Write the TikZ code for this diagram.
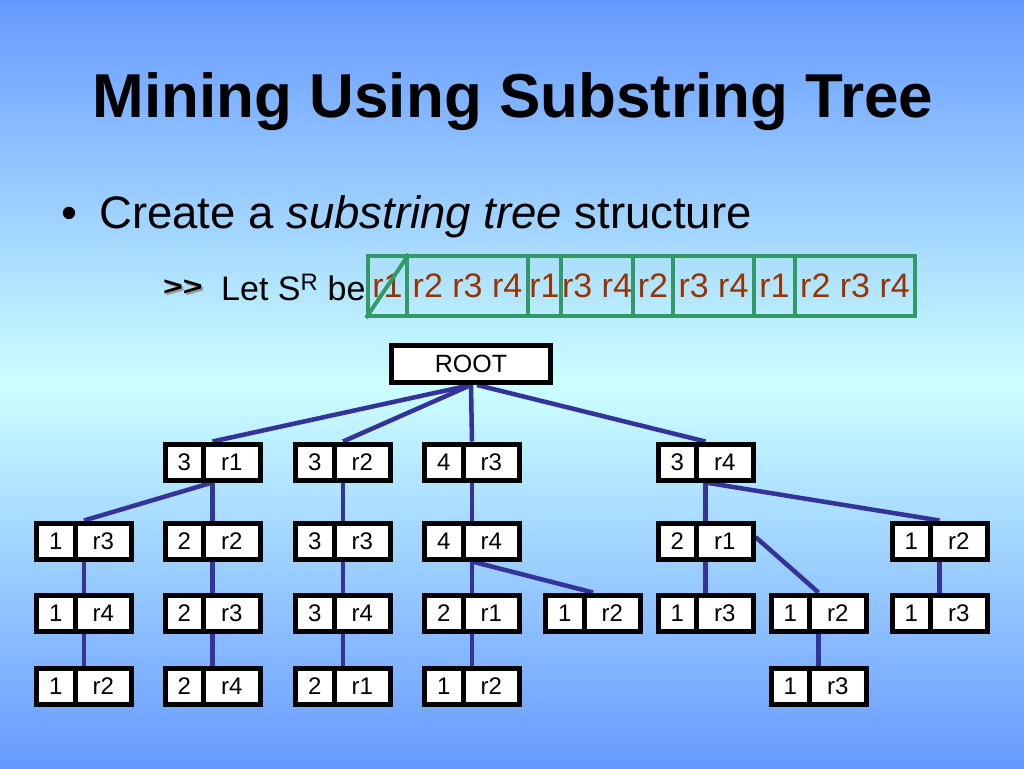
\documentclass[tikz,border=0pt]{standalone}
\usepackage{fontspec}
\setmainfont{Liberation Sans}
\pgfdeclarelayer{bg}
\pgfdeclarelayer{edges}
\pgfsetlayers{bg,edges,main}
\definecolor{bgtop}{HTML}{6699FF}
\definecolor{bgmid}{HTML}{CCFFFF}
\definecolor{seqred}{HTML}{993300}
\definecolor{seqgreen}{HTML}{339966}
\definecolor{edgeblue}{HTML}{333399}
\newcommand\pairtext[2]{\makebox[38.5pt]{#1}\makebox[56.5pt]{#2}}
\newcommand\dblgt{\scalebox{1.3}[1]{>}\kern0pt\scalebox{1.3}[1]{>}}
\tikzset{
  pair/.style={draw=black, line width=5pt, fill=white, inner sep=0pt,
    minimum height=36pt, font=\fontsize{24}{28}\selectfont,
    path picture={\draw[line width=5pt]
      ([xshift=38.5pt]path picture bounding box.north west) --
      ([xshift=38.5pt]path picture bounding box.south west);}},
  rootbox/.style={draw=black, line width=5pt, fill=white, inner sep=0pt,
    minimum width=159pt, minimum height=37pt, font=\fontsize{25}{28}\selectfont},
  seqcell/.style={draw=seqgreen, line width=4pt, inner sep=0pt,
    minimum height=60pt, text=seqred, font=\fontsize{34}{40}\selectfont},
  link/.style={draw=edgeblue, line width=4.5pt},
}
\begin{document}
\begin{tikzpicture}[x=1pt,y=-1pt]
\useasboundingbox (0,0) rectangle (1024,768);
\begin{pgfonlayer}{bg}
  \fill[top color=bgtop, bottom color=bgtop, middle color=bgmid] (0,0) rectangle (1024,768);
\end{pgfonlayer}

% title and text
\node[anchor=base, inner sep=0pt, font=\fontsize{62}{70}\selectfont\bfseries] (title) at (513,117) {Mining Using Substring Tree};
\node[anchor=base west, inner sep=0pt, font=\fontsize{45.5}{50}\selectfont] (bullet) at (61,228) {•};
\node[anchor=base west, inner sep=0pt, font=\fontsize{45.5}{50}\selectfont] (line1) at (99,228) {Create a \textit{substring tree} structure};
\node[anchor=base west, inner sep=0pt, text=black!40, font=\fontsize{26}{28}\selectfont\bfseries] (arrsh) at (165,297) {\dblgt};
\node[anchor=base west, inner sep=0pt, font=\fontsize{26}{28}\selectfont\bfseries] (arr) at (163,295) {\dblgt};
\node[anchor=base west, inner sep=0pt, font=\fontsize{34}{40}\selectfont] (let) at (221,300) {Let S\textsuperscript{R} be};

% sequence bar
\node[seqcell, minimum width=39pt] (s1) at (387.5,286) {r1};
\node[seqcell, minimum width=121pt] (s2) at (467.5,286) {r2 r3 r4};
\node[seqcell, minimum width=33pt] (s3) at (544.5,286) {r1};
\node[seqcell, minimum width=72pt] (s4) at (597,286) {r3 r4};
\node[seqcell, minimum width=40pt] (s5) at (653,286) {r2};
\node[seqcell, minimum width=81pt] (s6) at (713.5,286) {r3 r4};
\node[seqcell, minimum width=41pt] (s7) at (774.5,286) {r1};
\node[seqcell, minimum width=120pt] (s8) at (855,286) {r2 r3 r4};
\draw[seqgreen, line width=4pt] (s1.south west) -- (s1.north east);

% tree
\node[rootbox] (root) at (471,364) {ROOT};

\node[pair] (n21) at (212.5,462) {\pairtext{3}{r1}};
\node[pair] (n31) at (343,462) {\pairtext{3}{r2}};
\node[pair] (n41) at (472,462) {\pairtext{4}{r3}};
\node[pair] (n61) at (705.5,462) {\pairtext{3}{r4}};

\node[pair] (n12) at (84,541) {\pairtext{1}{r3}};
\node[pair] (n22) at (212.5,541) {\pairtext{2}{r2}};
\node[pair] (n32) at (343,541) {\pairtext{3}{r3}};
\node[pair] (n42) at (472,541) {\pairtext{4}{r4}};
\node[pair] (n62) at (705.5,541) {\pairtext{2}{r1}};
\node[pair] (n82) at (939.5,541) {\pairtext{1}{r2}};

\node[pair] (n13) at (84,613) {\pairtext{1}{r4}};
\node[pair] (n23) at (212.5,613) {\pairtext{2}{r3}};
\node[pair] (n33) at (343,613) {\pairtext{3}{r4}};
\node[pair] (n43) at (472,613) {\pairtext{2}{r1}};
\node[pair] (n53) at (593,613) {\pairtext{1}{r2}};
\node[pair] (n63) at (705.5,613) {\pairtext{1}{r3}};
\node[pair] (n73) at (818.5,613) {\pairtext{1}{r2}};
\node[pair] (n83) at (939.5,613) {\pairtext{1}{r3}};

\node[pair] (n14) at (84,686) {\pairtext{1}{r2}};
\node[pair] (n24) at (212.5,686) {\pairtext{2}{r4}};
\node[pair] (n34) at (343,686) {\pairtext{2}{r1}};
\node[pair] (n44) at (472,686) {\pairtext{1}{r2}};
\node[pair] (n74) at (818.5,686) {\pairtext{1}{r3}};

\begin{pgfonlayer}{edges}
  \draw[link] (root.south) -- (n21.north);
  \draw[link] (root.south) -- (n31.north);
  \draw[link] (root.south) -- (n41.north);
  \draw[link] ([xshift=6pt]root.south) -- (n61.north);
  \draw[link] (n21.south) -- (n12.north);
  \draw[link] (n21.south) -- (n22.north);
  \draw[link] (n12.south) -- (n13.north);
  \draw[link] (n13.south) -- (n14.north);
  \draw[link] (n22.south) -- (n23.north);
  \draw[link] (n23.south) -- (n24.north);
  \draw[link] (n31.south) -- (n32.north);
  \draw[link] (n32.south) -- (n33.north);
  \draw[link] (n33.south) -- (n34.north);
  \draw[link] (n41.south) -- (n42.north);
  \draw[link] (n42.south) -- (n43.north);
  \draw[link] (n43.south) -- (n44.north);
  \draw[link] (n42.south) -- (n53.north);
  \draw[link] (n61.south) -- (n62.north);
  \draw[link] (n61.south) -- (n82.north);
  \draw[link] (n62.south) -- (n63.north);
  \draw[link] ([yshift=4pt]n62.east) -- (n73.north);
  \draw[link] (n73.south) -- (n74.north);
  \draw[link] (n82.south) -- (n83.north);
\end{pgfonlayer}
\end{tikzpicture}
\end{document}
